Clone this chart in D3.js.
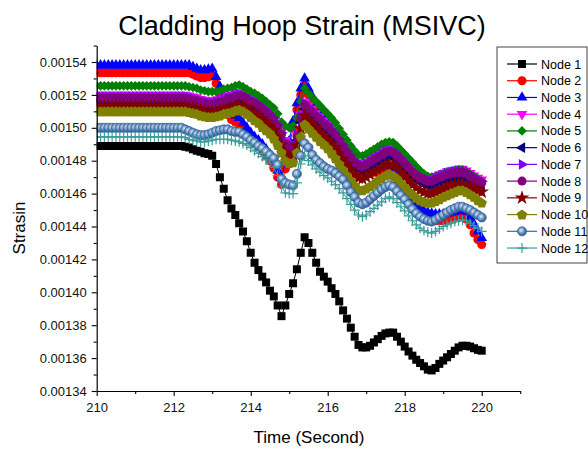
<!DOCTYPE html>
<html>
<head>
<meta charset="utf-8">
<script src="https://cdn.jsdelivr.net/npm/d3@7"></script>
<style>
html,body{margin:0;padding:0;background:#fff;}
svg{display:block;}
text{font-family:"Liberation Sans",Arial,Helvetica,sans-serif;}
</style>
</head>
<body>
<svg id="chart" width="588" height="449"></svg>
<script>
// Time axis (seconds) – sampled every 0.1 s
const time = d3.range(0, 101).map(i => 210 + i / 10);

// Strain values, in units of 1e-5
const node1 = [
148.9,148.9,148.9,148.9,148.9,148.9,148.9,148.9,148.9,148.9,
148.9,148.9,148.9,148.9,148.9,148.9,148.9,148.9,148.9,148.9,
148.9,148.9,148.9,148.85,148.8,148.7,148.6,148.55,148.45,148.4,
148.3,147.8,147.0,146.3,145.6,145.1,144.7,144.2,143.7,143.1,
142.4,141.8,141.35,140.95,140.6,140.1,139.75,139.2,138.55,139.2,
139.9,140.55,141.4,142.4,143.35,143.0,142.4,141.8,141.25,140.95,
140.65,140.25,139.9,139.45,138.9,138.4,137.85,137.3,136.8,136.65,
136.65,136.75,136.95,137.15,137.35,137.5,137.55,137.55,137.3,137.0,
136.7,136.4,136.15,135.9,135.7,135.5,135.3,135.25,135.4,135.65,
135.85,136.05,136.25,136.45,136.65,136.75,136.75,136.7,136.6,136.5,
136.45];
const node2 = [
153.35,153.35,153.35,153.35,153.35,153.35,153.35,153.35,153.35,153.35,
153.35,153.35,153.35,153.35,153.35,153.35,153.35,153.35,153.35,153.35,
153.35,153.35,153.35,153.35,153.35,153.25,153.15,153.05,153.05,153.1,
153.15,152.7,152.1,151.4,150.8,150.5,150.35,150.2,149.9,149.6,
149.3,149.05,148.85,148.6,148.3,148.0,147.55,147.0,146.55,147.5,
148.8,150.0,151.1,152.0,152.6,152.0,151.5,151.05,150.6,150.2,
149.9,149.55,149.2,148.9,148.6,148.25,147.9,147.55,147.2,147.1,
147.15,147.25,147.3,147.35,147.4,147.4,147.3,147.05,146.7,146.3,
145.9,145.55,145.2,144.9,144.7,144.55,144.45,144.4,144.35,144.35,
144.35,144.4,144.45,144.5,144.55,144.6,144.45,144.1,143.6,143.2,
142.9];
const node3 = [
153.8,153.8,153.8,153.8,153.8,153.8,153.8,153.8,153.8,153.8,
153.8,153.8,153.8,153.8,153.8,153.8,153.8,153.8,153.8,153.8,
153.8,153.8,153.8,153.8,153.8,153.7,153.6,153.5,153.5,153.55,
153.6,153.1,152.5,151.8,151.2,150.9,150.75,150.6,150.3,150.0,
149.7,149.45,149.25,149.0,148.7,148.4,147.95,147.4,146.95,147.9,
149.2,150.4,151.5,152.4,153.0,152.4,151.9,151.45,151.0,150.6,
150.3,149.95,149.6,149.3,149.0,148.65,148.3,147.95,147.6,147.5,
147.55,147.65,147.7,147.75,147.8,147.8,147.7,147.45,147.1,146.7,
146.3,145.95,145.6,145.3,145.1,144.95,144.85,144.8,144.75,144.75,
144.75,144.8,144.85,144.9,144.95,145.0,144.9,144.55,144.15,143.7,
143.3];
const node4 = [
152.0,152.0,152.0,152.0,152.0,152.0,152.0,152.0,152.0,152.0,
152.0,152.0,152.0,152.0,152.0,152.0,152.0,152.0,152.0,152.0,
152.0,152.0,152.0,152.0,151.95,151.9,151.85,151.75,151.7,151.65,
151.65,151.7,151.75,151.85,151.95,152.0,152.1,152.15,152.1,151.95,
151.8,151.7,151.55,151.35,151.15,150.95,150.7,150.3,149.8,149.25,
149.05,149.1,149.7,150.8,151.6,151.35,151.15,150.9,150.7,150.45,
150.25,150.0,149.75,149.4,149.05,148.7,148.4,148.1,147.9,147.85,
147.95,148.1,148.25,148.4,148.55,148.7,148.75,148.7,148.5,148.25,
148.0,147.75,147.5,147.3,147.15,147.05,146.95,146.95,147.05,147.15,
147.25,147.35,147.4,147.45,147.5,147.5,147.4,147.25,147.1,146.95,
146.85];
const node5 = [
152.55,152.55,152.55,152.55,152.55,152.55,152.55,152.55,152.55,152.55,
152.55,152.55,152.55,152.55,152.55,152.55,152.55,152.55,152.55,152.55,
152.55,152.55,152.55,152.55,152.5,152.45,152.4,152.3,152.25,152.2,
152.2,152.2,152.25,152.35,152.4,152.45,152.55,152.6,152.5,152.35,
152.2,152.1,151.95,151.8,151.6,151.4,151.2,150.85,150.35,150.1,
150.0,150.1,150.6,151.6,152.4,152.1,151.85,151.6,151.35,151.1,
150.85,150.6,150.3,149.95,149.6,149.25,148.9,148.6,148.35,148.3,
148.4,148.55,148.7,148.85,149.0,149.1,149.15,149.1,148.9,148.65,
148.4,148.15,147.9,147.65,147.4,147.2,147.05,147.0,147.05,147.15,
147.2,147.3,147.35,147.4,147.45,147.45,147.35,147.2,147.05,146.9,
146.75];
const node6 = [
151.55,151.55,151.55,151.55,151.55,151.55,151.55,151.55,151.55,151.55,
151.55,151.55,151.55,151.55,151.55,151.55,151.55,151.55,151.55,151.55,
151.55,151.55,151.55,151.55,151.5,151.45,151.4,151.3,151.25,151.2,
151.2,151.25,151.3,151.4,151.5,151.55,151.65,151.7,151.65,151.5,
151.35,151.25,151.1,150.9,150.7,150.5,150.25,149.85,149.35,148.8,
148.6,148.65,149.25,150.35,151.15,150.9,150.7,150.45,150.25,150.0,
149.8,149.55,149.3,148.95,148.6,148.25,147.95,147.65,147.45,147.4,
147.5,147.65,147.8,147.95,148.1,148.25,148.3,148.25,148.05,147.8,
147.55,147.3,147.05,146.85,146.7,146.6,146.5,146.5,146.6,146.7,
146.8,146.9,146.95,147.0,147.05,147.05,146.95,146.8,146.65,146.5,
146.4];
const node7 = [
151.9,151.9,151.9,151.9,151.9,151.9,151.9,151.9,151.9,151.9,
151.9,151.9,151.9,151.9,151.9,151.9,151.9,151.9,151.9,151.9,
151.9,151.9,151.9,151.9,151.85,151.8,151.75,151.65,151.6,151.55,
151.55,151.6,151.65,151.75,151.85,151.9,152.0,152.05,152.0,151.85,
151.7,151.6,151.45,151.25,151.05,150.85,150.6,150.2,149.7,149.15,
148.95,149.0,149.6,150.7,151.5,151.25,151.05,150.8,150.6,150.35,
150.15,149.9,149.65,149.3,148.95,148.6,148.3,148.0,147.8,147.75,
147.85,148.0,148.15,148.3,148.45,148.6,148.65,148.6,148.4,148.15,
147.9,147.65,147.4,147.2,147.05,146.95,146.85,146.85,146.95,147.05,
147.15,147.25,147.3,147.35,147.4,147.4,147.3,147.15,147.0,146.85,
146.75];
const node8 = [
151.8,151.8,151.8,151.8,151.8,151.8,151.8,151.8,151.8,151.8,
151.8,151.8,151.8,151.8,151.8,151.8,151.8,151.8,151.8,151.8,
151.8,151.8,151.8,151.8,151.75,151.7,151.65,151.55,151.5,151.45,
151.45,151.5,151.55,151.65,151.75,151.8,151.9,151.95,151.9,151.75,
151.6,151.5,151.35,151.15,150.95,150.75,150.5,150.1,149.6,149.05,
148.85,148.9,149.5,150.6,151.4,151.15,150.95,150.7,150.5,150.25,
150.05,149.8,149.55,149.2,148.85,148.5,148.2,147.9,147.7,147.65,
147.75,147.9,148.05,148.2,148.35,148.5,148.55,148.5,148.3,148.05,
147.8,147.55,147.3,147.1,146.95,146.85,146.75,146.75,146.85,146.95,
147.05,147.15,147.2,147.25,147.3,147.3,147.2,147.05,146.9,146.75,
146.65];
const node9 = [
151.3,151.3,151.3,151.3,151.3,151.3,151.3,151.3,151.3,151.3,
151.3,151.3,151.3,151.3,151.3,151.3,151.3,151.3,151.3,151.3,
151.3,151.3,151.3,151.3,151.25,151.2,151.15,151.05,151.0,150.95,
150.95,151.0,151.05,151.15,151.2,151.25,151.35,151.4,151.35,151.2,
151.0,150.9,150.75,150.55,150.35,150.1,149.85,149.45,148.95,148.45,
148.3,148.35,148.9,149.95,150.75,150.5,150.25,150.0,149.75,149.5,
149.3,149.05,148.8,148.45,148.1,147.75,147.45,147.15,146.95,146.9,
147.0,147.15,147.3,147.45,147.6,147.75,147.8,147.75,147.55,147.3,
147.05,146.8,146.55,146.35,146.2,146.1,146.0,146.0,146.1,146.2,
146.3,146.4,146.5,146.55,146.6,146.6,146.5,146.4,146.3,146.2,
146.1];
const node10 = [
151.0,151.0,151.0,151.0,151.0,151.0,151.0,151.0,151.0,151.0,
151.0,151.0,151.0,151.0,151.0,151.0,151.0,151.0,151.0,151.0,
151.0,151.0,151.0,151.0,150.95,150.9,150.85,150.75,150.7,150.65,
150.65,150.7,150.75,150.85,150.9,150.95,151.05,151.1,151.0,150.85,
150.65,150.45,150.3,150.05,149.85,149.65,149.35,148.95,148.5,148.0,
147.85,147.9,148.5,149.45,150.2,149.95,149.7,149.45,149.2,149.0,
148.75,148.45,148.15,147.8,147.45,147.1,146.8,146.5,146.25,146.2,
146.3,146.45,146.6,146.8,146.95,147.1,147.2,147.1,146.9,146.65,
146.4,146.15,145.95,145.75,145.6,145.5,145.45,145.45,145.55,145.65,
145.8,145.9,146.0,146.1,146.2,146.2,146.1,145.95,145.8,145.6,
145.45];
const node11 = [
150.0,150.0,150.0,150.0,150.0,150.0,150.0,150.0,150.0,150.0,
150.0,150.0,150.0,150.0,150.0,150.0,150.0,150.0,150.0,150.0,
150.0,150.0,150.0,149.9,149.8,149.7,149.6,149.55,149.55,149.6,
149.7,149.8,149.85,149.9,149.9,149.8,149.75,149.75,149.6,149.45,
149.25,149.1,148.9,148.75,148.55,148.35,148.15,147.75,146.9,146.65,
146.55,146.5,147.2,148.3,149.05,148.8,148.35,148.05,147.85,147.65,
147.5,147.4,147.25,147.05,146.85,146.5,146.1,145.8,145.45,145.35,
145.45,145.65,145.85,146.05,146.25,146.4,146.5,146.4,146.15,145.9,
145.65,145.35,145.05,144.8,144.6,144.45,144.35,144.3,144.4,144.55,
144.7,144.85,145.0,145.1,145.2,145.2,145.1,145.0,144.85,144.7,
144.55];
const node12 = [
149.45,149.45,149.45,149.45,149.45,149.45,149.45,149.45,149.45,149.45,
149.45,149.45,149.45,149.45,149.45,149.45,149.45,149.45,149.45,149.45,
149.45,149.45,149.45,149.4,149.3,149.25,149.2,149.15,149.15,149.2,
149.25,149.3,149.3,149.3,149.3,149.25,149.2,149.15,149.05,148.95,
148.8,148.6,148.45,148.25,148.05,147.85,147.6,147.1,146.4,146.05,
146.0,146.0,146.65,147.8,148.3,148.0,147.75,147.5,147.3,147.1,
146.95,146.75,146.55,146.3,146.05,145.7,145.35,145.0,144.7,144.6,
144.7,144.9,145.1,145.3,145.5,145.7,145.8,145.7,145.45,145.2,
144.95,144.65,144.35,144.1,143.9,143.75,143.65,143.6,143.7,143.85,
144.0,144.1,144.2,144.3,144.35,144.4,144.35,144.2,144.05,143.9,
143.7];

const seriesNames = ["Node 1","Node 2","Node 3","Node 4","Node 5","Node 6",
                     "Node 7","Node 8","Node 9","Node 10","Node 11","Node 12"];
const seriesValues = [node1,node2,node3,node4,node5,node6,node7,node8,node9,node10,node11,node12];
const xTicks = [210, 212, 214, 216, 218, 220];
const xMinorTicks = [211, 213, 215, 217, 219, 221];
const yTicks = [0.00134,0.00136,0.00138,0.00140,0.00142,0.00144,0.00146,0.00148,0.00150,0.00152,0.00154];
const yMinorTicks = [0.00135,0.00137,0.00139,0.00141,0.00143,0.00145,0.00147,0.00149,0.00151,0.00153,0.00155];

// styles
const colors = ["#000000","#ff0000","#0000ff","#ff00ff","#008000","#000080",
                "#8000ff","#800080","#800000","#808000","#3a6aa3","#3a9c9c"];
const shapes = ["square","circle","triUp","triDown","diamond","triLeft",
                "triRight","circle","star","pentagon","sphere","plus"];

const svg = d3.select("#chart");
svg.append("rect").attr("width",588).attr("height",449).attr("fill","#fff");

const defs = svg.append("defs");
const grad = defs.append("radialGradient").attr("id","sphere")
  .attr("cx","42%").attr("cy","40%").attr("r","58%");
grad.append("stop").attr("offset","0%").attr("stop-color","#e6eef8");
grad.append("stop").attr("offset","30%").attr("stop-color","#9dbbdc");
grad.append("stop").attr("offset","70%").attr("stop-color","#4a7cb4");
grad.append("stop").attr("offset","100%").attr("stop-color","#2f5f98");

const L = 96.7, R = 520.2, T = 45.55, B = 391;
const x = d3.scaleLinear().domain([210, 221]).range([L, R]);
const y = d3.scaleLinear().domain([0.00134, 0.00155]).range([B, T]);

defs.append("clipPath").attr("id","plotclip").append("rect")
  .attr("x", L).attr("y", T - 10).attr("width", R - L + 10).attr("height", B - T + 10);

function markerPath(shape) {
  switch (shape) {
    case "square": return d3.symbol(d3.symbolSquare, 64)();
    case "circle": return d3.symbol(d3.symbolCircle, 64)();
    case "sphere": return d3.symbol(d3.symbolCircle, 66)();
    case "triUp":
    case "triDown":
    case "triLeft":
    case "triRight": return d3.symbol(d3.symbolTriangle, 50)();
    case "diamond": return d3.symbol(d3.symbolSquare, 46)();
    case "star": return d3.symbol(d3.symbolStar, 66)();
    case "pentagon": {
      const r = 5.5, pts = [];
      for (let k = 0; k < 5; k++) {
        const a = -Math.PI / 2 + k * 2 * Math.PI / 5;
        pts.push([r * Math.cos(a), r * Math.sin(a) + 0.5]);
      }
      return "M" + pts.map(p => p[0].toFixed(2) + "," + p[1].toFixed(2)).join("L") + "Z";
    }
    case "plus": return "M-5,0H5M0,-5V5";
  }
}
function markerRotation(shape) {
  return {triDown:180, triLeft:-90, triRight:90, diamond:45}[shape] || 0;
}
function drawMarker(g, shape, color, px, py) {
  const p = g.append("path").attr("d", markerPath(shape))
    .attr("transform", `translate(${px},${py}) rotate(${markerRotation(shape)})`);
  if (shape === "plus") {
    p.attr("fill","none").attr("stroke",color).attr("stroke-width",1.2);
  } else if (shape === "sphere") {
    p.attr("fill","url(#sphere)").attr("stroke","#2f5f98").attr("stroke-width",0.7);
  } else {
    p.attr("fill",color).attr("stroke","none");
  }
}

const plot = svg.append("g").attr("clip-path","url(#plotclip)");
const line = d3.line().x((d, i) => x(time[i])).y(d => y(d * 1e-5));

seriesValues.forEach((vals, s) => {
  const g = plot.append("g");
  g.append("path").datum(vals).attr("d", line)
    .attr("fill","none").attr("stroke", colors[s]).attr("stroke-width", 1);
  vals.forEach((v, i) => drawMarker(g, shapes[s], colors[s], x(time[i]), y(v * 1e-5)));
});

// axes
const fmt = d3.format(".5f");
svg.append("g").attr("transform", `translate(${L},0)`)
  .call(d3.axisLeft(y).tickValues(yTicks).tickFormat(fmt).tickSize(5).tickSizeOuter(0).tickPadding(5));
svg.append("g").attr("transform", `translate(${L},0)`)
  .call(d3.axisLeft(y).tickValues(yMinorTicks).tickFormat("").tickSize(3).tickSizeOuter(0))
  .select(".domain").remove();
svg.append("g").attr("transform", `translate(0,${B})`)
  .call(d3.axisBottom(x).tickValues(xTicks).tickFormat(d3.format("d")).tickSize(5).tickSizeOuter(0).tickPadding(7));
svg.append("g").attr("transform", `translate(0,${B})`)
  .call(d3.axisBottom(x).tickValues(xMinorTicks).tickFormat("").tickSize(3).tickSizeOuter(0))
  .select(".domain").remove();

svg.selectAll(".domain").attr("stroke","#000").attr("stroke-width",1.2);
svg.selectAll(".tick line").attr("stroke","#000").attr("stroke-width",1.1);
svg.selectAll(".tick text").attr("font-size", 13).attr("fill","#111")
  .attr("font-family", '"Liberation Sans", Arial, sans-serif');

// titles
svg.append("text").attr("x", 302).attr("y", 35).attr("text-anchor","middle")
  .attr("font-size", 27).attr("fill","#000").text("Cladding Hoop Strain (MSIVC)");
svg.append("text").attr("x", 309).attr("y", 443).attr("text-anchor","middle")
  .attr("font-size", 17).attr("fill","#000").text("Time (Second)");
svg.append("text").attr("transform","translate(25,228) rotate(-90)").attr("text-anchor","middle")
  .attr("font-size", 17).attr("fill","#000").text("Strasin");

// legend
const leg = svg.append("g");
leg.append("rect").attr("x", 497).attr("y", 47).attr("width", 90).attr("height", 216)
  .attr("fill","#fff").attr("stroke","#444").attr("stroke-width",1);
seriesNames.forEach((name, s) => {
  const cy = 64 + s * 16.73;
  leg.append("line").attr("x1", 507).attr("x2", 537).attr("y1", cy).attr("y2", cy)
    .attr("stroke", colors[s]).attr("stroke-width", 1.2);
  drawMarker(leg, shapes[s], colors[s], 522, cy);
  leg.append("text").attr("x", 541).attr("y", cy + 4.5).attr("font-size", 12.5)
    .attr("fill","#000").text(name);
});
</script>
</body>
</html>
